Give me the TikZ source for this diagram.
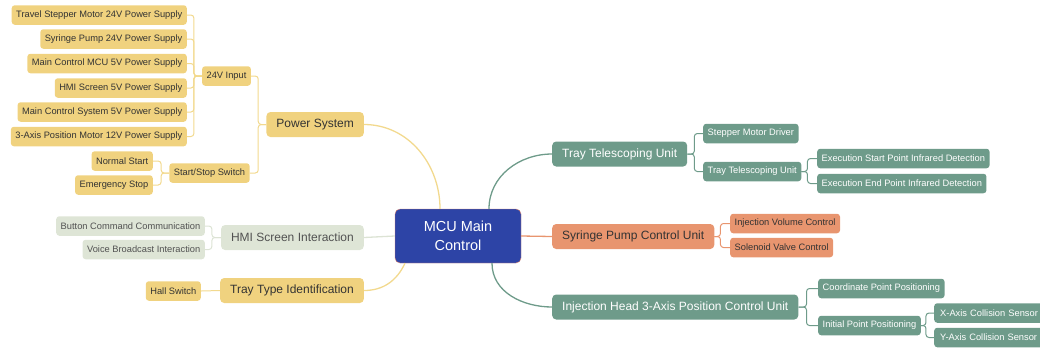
\documentclass[tikz,border=0pt]{standalone}
\usepackage{fontspec}
\setmainfont{Liberation Sans}
\usepackage{tikz}
\usetikzlibrary{positioning,calc}
\usepackage{xcolor}
\definecolor{ylw}{HTML}{F0D27F}
\definecolor{ylwline}{HTML}{F2D98E}
\definecolor{tealc}{HTML}{6E9B8A}
\definecolor{orng}{HTML}{E8956F}
\definecolor{sage}{HTML}{DEE5D6}
\definecolor{sageline}{HTML}{DCE3D4}
\definecolor{mcublue}{HTML}{2D44A6}
\definecolor{mcurim}{HTML}{D9826F}
\definecolor{ink}{HTML}{333333}

\tikzset{
  leaf/.style={rounded corners=3pt, inner xsep=4.5pt, inner ysep=0pt,
    minimum height=19.5pt, font=\fontsize{9.3}{10}\selectfont},
  branch/.style={rounded corners=4pt, inner xsep=10pt, inner ysep=0pt,
    minimum height=25pt, font=\fontsize{12}{13}\selectfont},
  yl/.style={fill=ylw, text=ink},
  tl/.style={fill=tealc, text=white},
  og/.style={fill=orng, text=ink},
  sg/.style={fill=sage, text=ink!85},
  conn/.style={line width=1pt, rounded corners=3pt},
  curve/.style={line width=1.3pt}
}

\begin{document}
\begin{tikzpicture}[x=1pt, y=-1pt]
  \clip (0,0) rectangle (1040,349);

  % centre
  \node[rounded corners=5pt, fill=mcublue, draw=mcurim, line width=0.4pt,
    text=white, minimum width=126pt, minimum height=54pt, align=center,
    font=\fontsize{14.5}{19}\selectfont] (mcu) at (458,236) {MCU Main\\Control};

  % power system
  \node[branch, yl, anchor=east] (pwr) at (364,124.5) {Power System};
  \node[leaf, yl] (in24) at (226.5,76) {24V Input};
  \node[leaf, yl] (sss) at (209.5,173) {Start/Stop Switch};
  \node[leaf, yl, anchor=east] (ps1) at (187,15) {Travel Stepper Motor 24V Power Supply};
  \node[leaf, yl, anchor=east] (ps2) at (187,39) {Syringe Pump 24V Power Supply};
  \node[leaf, yl, anchor=east] (ps3) at (187,63.5) {Main Control MCU 5V Power Supply};
  \node[leaf, yl, anchor=east] (ps4) at (187,88) {HMI Screen 5V Power Supply};
  \node[leaf, yl, anchor=east] (ps5) at (187,112) {Main Control System 5V Power Supply};
  \node[leaf, yl, anchor=east] (ps6) at (187,136.5) {3-Axis Position Motor 12V Power Supply};
  \node[leaf, yl, anchor=east] (nst) at (153,161) {Normal Start};
  \node[leaf, yl, anchor=east] (est) at (153,185) {Emergency Stop};

  % hmi
  \node[branch, sg, anchor=east] (hmi) at (364,237.5) {HMI Screen Interaction};
  \node[leaf, sg, anchor=east] (bcc) at (205,226) {Button Command Communication};
  \node[leaf, sg, anchor=east] (vbi) at (205,249.5) {Voice Broadcast Interaction};

  % tray type
  \node[branch, yl, anchor=east] (tti) at (364,290.5) {Tray Type Identification};
  \node[leaf, yl, anchor=east] (hall) at (201,291) {Hall Switch};

  % tray telescoping
  \node[branch, tl, anchor=west] (ttu) at (552,154) {Tray Telescoping Unit};
  \node[leaf, tl, anchor=west] (smd) at (703,133.5) {Stepper Motor Driver};
  \node[leaf, tl, anchor=west] (tts) at (703,171.5) {Tray Telescoping Unit};
  \node[leaf, tl, anchor=west] (exs) at (817,158.5) {Execution Start Point Infrared Detection};
  \node[leaf, tl, anchor=west] (exe) at (817,183.5) {Execution End Point Infrared Detection};

  % syringe pump
  \node[branch, og, anchor=west] (spc) at (552,236.5) {Syringe Pump Control Unit};
  \node[leaf, og, anchor=west] (ivc) at (730,223.5) {Injection Volume Control};
  \node[leaf, og, anchor=west] (svc) at (730,247.5) {Solenoid Valve Control};

  % injection head
  \node[branch, tl, anchor=west] (ihd) at (552,307) {Injection Head 3-Axis Position Control Unit};
  \node[leaf, tl, anchor=west] (cpp) at (818,288.5) {Coordinate Point Positioning};
  \node[leaf, tl, anchor=west] (ipp) at (818,325.5) {Initial Point Positioning};
  \node[leaf, tl, anchor=west, minimum width=116pt, align=left,
    text width=104pt] (xcs) at (934,313) {X-Axis Collision Sensor};
  \node[leaf, tl, anchor=west, minimum width=116pt, align=left,
    text width=104pt] (ycs) at (934,337.5) {Y-Axis Collision Sensor};

  % main connectors
  \draw[curve, ylwline] ([xshift=-18pt]mcu.north) to[out=90, in=0] (pwr.east);
  \draw[curve, sageline] (mcu.west) -- (hmi.east);
  \draw[curve, ylwline] ([xshift=-53pt]mcu.south) to[out=-115, in=0] (tti.east);
  \draw[curve, tealc] ([xshift=31pt]mcu.north) to[out=90, in=180] (ttu.west);
  \draw[curve, orng] (mcu.east) -- (spc.west);
  \draw[curve, tealc] ([xshift=34pt]mcu.south) to[out=-90, in=180] (ihd.west);

  % branch connectors
  \foreach \c in {in24,sss}
    \draw[conn, ylwline] (pwr.west) -- ++(-8,0) |- (\c.east);
  \foreach \c in {ps1,ps2,ps3,ps4,ps5,ps6}
    \draw[conn, ylwline] (in24.west) -- ++(-8,0) |- (\c.east);
  \foreach \c in {nst,est}
    \draw[conn, ylwline] (sss.west) -- ++(-8,0) |- (\c.east);
  \foreach \c in {bcc,vbi}
    \draw[conn, sageline] (hmi.west) -- ++(-9,0) |- (\c.east);
  \draw[conn, ylwline] (tti.west) -- (hall.east);
  \foreach \c in {smd,tts}
    \draw[conn, tealc] (ttu.east) -- ++(7,0) |- (\c.west);
  \foreach \c in {exs,exe}
    \draw[conn, tealc] (tts.east) -- ++(6,0) |- (\c.west);
  \foreach \c in {ivc,svc}
    \draw[conn, orng] (spc.east) -- ++(6,0) |- (\c.west);
  \foreach \c in {cpp,ipp}
    \draw[conn, tealc] (ihd.east) -- ++(8,0) |- (\c.west);
  \foreach \c in {xcs,ycs}
    \draw[conn, tealc] (ipp.east) -- ++(5,0) |- (\c.west);
\end{tikzpicture}
\end{document}
